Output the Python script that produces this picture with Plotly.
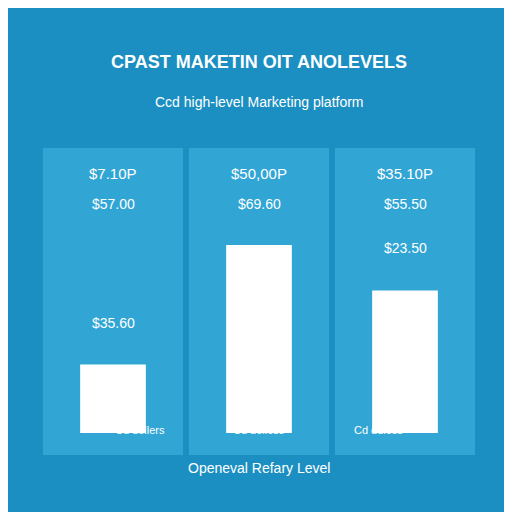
import plotly.graph_objects as go

# data
panels = [0, 1, 2]
bar_values = [24, 66, 50]
top_labels = ["$7.10P", "$50,00P", "$35.10P"]
second_labels = ["$57.00", "$69.60", "$55.50"]
bar_labels = ["$35.60", "", "$23.50"]
bar_label_y = [38.6, 0, 65]
bottom_labels = ["Cd dollers", "Cd dolless", "Cd ddless"]

white = "#ffffff"
font = "Liberation Sans, Arial, sans-serif"

# the page puts the figure 8px in from the top-left corner
W, H = 504, 504
top, bottom, left, right = 140, 79, 32, 34
plot_h = H - top - bottom


def py(pix):
    # pixel row in the 512 window -> paper y
    return (H - bottom - (pix - 8)) / plot_h


fig = go.Figure()

fig.add_trace(go.Bar(
    x=panels,
    y=bar_values,
    width=0.45,
    marker=dict(color=white, line=dict(width=0)),
    hoverinfo="skip",
))

# lighter panels behind the bars
for p in panels:
    fig.add_shape(type="rect", xref="x", yref="paper",
                  x0=p - 0.48, x1=p + 0.48, y0=py(455), y1=1.0,
                  fillcolor="#3aaedb", opacity=0.75, line=dict(width=0),
                  layer="below")

for p in panels:
    fig.add_annotation(x=p, y=91, xref="x", yref="y", text=top_labels[p],
                       showarrow=False, font=dict(size=15, color=white))
    fig.add_annotation(x=p, y=80.5, xref="x", yref="y", text=second_labels[p],
                       showarrow=False, font=dict(size=14, color=white))
    if bar_labels[p]:
        fig.add_annotation(x=p, y=bar_label_y[p], xref="x", yref="y", text=bar_labels[p],
                           showarrow=False, font=dict(size=14, color=white))
    fig.add_annotation(x=(p + 0.5) / 3, y=py(438), xref="paper", yref="paper",
                       text=bottom_labels[p], showarrow=False,
                       font=dict(size=11, color=white))

fig.add_annotation(x=0.5, y=py(50), xref="paper", yref="paper",
                   text="<b>CPAST MAKETIN OIT ANOLEVELS</b>", showarrow=False,
                   font=dict(size=18, color=white))
fig.add_annotation(x=0.5, y=py(92), xref="paper", yref="paper",
                   text="Ccd high-level Marketing platform", showarrow=False,
                   font=dict(size=14, color=white))
fig.add_annotation(x=0.5, y=py(478), xref="paper", yref="paper",
                   text="Openeval Refary Level", showarrow=False,
                   font=dict(size=14, color=white))

fig.update_layout(
    width=W, height=H,
    margin=dict(l=left, r=right, t=top, b=bottom),
    paper_bgcolor="#1b8fc2",
    plot_bgcolor="rgba(0,0,0,0)",
    font=dict(family=font, color=white),
    showlegend=False,
    xaxis=dict(range=[-0.5, 2.5], visible=False, fixedrange=True),
    yaxis=dict(range=[0, 100], visible=False, fixedrange=True),
)

fig.write_html("out.html")
